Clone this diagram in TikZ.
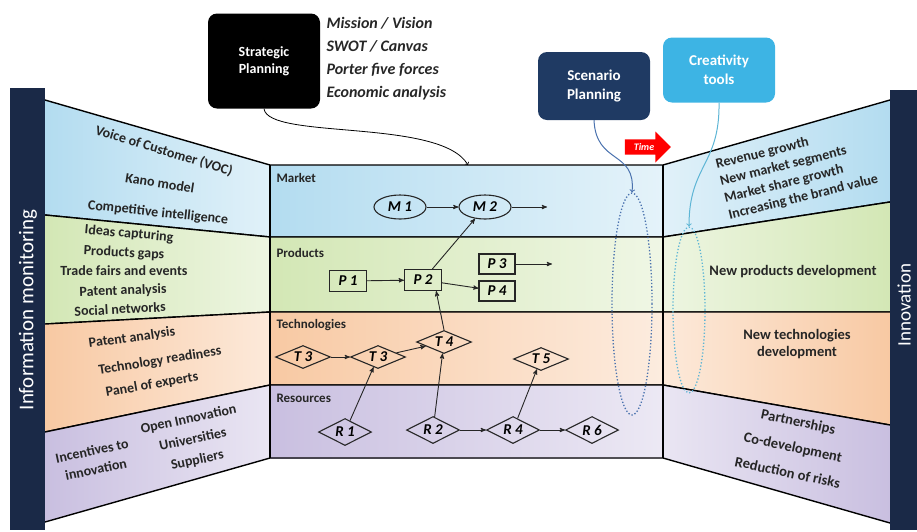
\documentclass[tikz,border=0pt]{standalone}
\usepackage{fontspec}
\setmainfont{Carlito}
\usetikzlibrary{shapes.geometric, shapes.arrows, positioning, arrows}

\definecolor{navybar}{HTML}{1A2947}
\definecolor{scenblue}{HTML}{1F3A63}
\definecolor{creablue}{HTML}{3DB4E4}
\definecolor{bandblue}{HTML}{B3DCF0}
\definecolor{bandgreen}{HTML}{D3E7B5}
\definecolor{bandorange}{HTML}{F8C9A3}
\definecolor{bandpurple}{HTML}{C9BFE0}
\definecolor{scenline}{HTML}{4A72AE}
\definecolor{crealine}{HTML}{5DB5D5}
\definecolor{inktext}{HTML}{262626}

\tikzset{
x=1pt, y=-1pt, % one unit is one pixel of the layout
>=stealth', % makes the arrow heads bold
panel/.style={draw=black, line width=1.4pt}, % borders of the three walls
sidetext/.style={font=\fontsize{14}{21}\selectfont\bfseries, text=inktext, inner sep=1pt, align=center},
righttext/.style={font=\fontsize{14.5}{17}\selectfont\bfseries, text=inktext, inner sep=1pt, align=center},
bartext/.style={rotate=90, text=white, font=\fontsize{21}{22}\selectfont},
rowlabel/.style={anchor=west, font=\fontsize{13}{15}\selectfont\bfseries, text=inktext},
toolbox/.style={rounded corners=9pt, minimum width=112pt, text=white, align=center, font=\fontsize{14}{17}\selectfont\bfseries},
item/.style={draw=inktext, line width=1.1pt, inner sep=0pt, font=\fontsize{15}{17}\selectfont\bfseries\itshape},
mnode/.style={item, ellipse, minimum width=52pt, minimum height=24pt},
pnode/.style={item, rectangle, minimum width=37pt, minimum height=21pt},
tnode/.style={item, diamond, aspect=2.4, minimum width=55pt, minimum height=23pt},
rnode/.style={item, diamond, aspect=2, minimum width=53pt, minimum height=27pt},
flow/.style={->, line width=0.9pt, draw=inktext},
hint/.style={-to, line width=1pt}, % open arrow heads of the tool links
}

\begin{document}
\begin{tikzpicture}
\useasboundingbox (0,0) rectangle (917,531);

% walls: left panel, centre box, right panel, one band at a time
\foreach \ya/\yb/\yc/\yd/\ye/\yf/\col in {100/215/165/237/100/202/bandblue,
  215/324/237/312/202/312/bandgreen, 324/432/312/385/312/425/bandorange,
  432/522/385/458/425/523/bandpurple}{
  \shade[left color=\col, right color=\col!40!white] (45,\ya) -- (270,\yc) -- (270,\yd) -- (45,\yb) -- cycle;
  \shade[left color=\col, right color=\col!35!white] (270,\yc) rectangle (663,\yd);
  \shade[left color=\col!40!white, right color=\col] (663,\yc) -- (890,\ye) -- (890,\yf) -- (663,\yd) -- cycle;
  \draw[panel] (45,\ya) -- (270,\yc) -- (663,\yc) -- (890,\ye);
  \draw[panel] (45,\yb) -- (270,\yd) -- (663,\yd) -- (890,\yf);
}
\draw[panel] (270,165) -- (270,458) (663,165) -- (663,458);

% side bars
\fill[navybar] (10,88) rectangle (45,530);
\fill[navybar] (890,90) rectangle (917,530);
\node[bartext] (imon) at (28,310) {Information monitoring};
\node[bartext, font=\fontsize{19}{20}\selectfont] (innov) at (904,305) {Innovation};

% left wall texts
\foreach \x/\y/\r/\t in {164/151/-17/Voice of Customer (VOC), 160/183/-9/Kano model,
  158/213/-6/Competitive intelligence, 129/234/-5/Ideas capturing, 124/253/-3/Products gaps,
  124/271/0/Trade fairs and events, 123/291/2/Patent analysis, 120/309/3/Social networks,
  132/338/8/Patent analysis, 160/361/9/Technology readiness, 152/385/10/Panel of experts}
  \node[sidetext, rotate=\r] at (\x,\y) {\t};
\node[sidetext, rotate=12] (partners) at (193,440) {Open Innovation\\Universities\\Suppliers};
\node[sidetext, rotate=12, font=\fontsize{14}{19}\selectfont\bfseries] (incent) at (94,460) {Incentives to\\innovation};

% right wall texts
\node[righttext, rotate=14, align=left, font=\fontsize{14}{17.5}\selectfont\bfseries] (gains) at (797,172) {Revenue growth\\New market segments\\Market share growth\\Increasing the brand value};
\node[righttext] (npd) at (793,272) {New products development};
\node[righttext] (ntd) at (797,344) {New technologies\\development};
\node[righttext, rotate=-12, font=\fontsize{14.5}{26}\selectfont\bfseries] (risks) at (793,447) {Partnerships\\Co-development\\Reduction of risks};

% row labels
\node[rowlabel] (lmarket) at (273,178) {Market};
\node[rowlabel] (lprod) at (273,253) {Products};
\node[rowlabel] (ltech) at (273,325) {Technologies};
\node[rowlabel] (lres) at (273,398) {Resources};

% roadmap items
\node[mnode] (m1) at (400,207) {M 1};
\node[mnode] (m2) at (485,207) {M 2};
\coordinate (mend) at (547,207);
\node[pnode] (p1) at (348,281) {P 1};
\node[pnode] (p2) at (423,280) {P 2};
\node[pnode, minimum width=36pt, minimum height=20pt] (p3) at (497,264) {P 3};
\node[pnode, minimum width=36pt, minimum height=20pt] (p4) at (497,291) {P 4};
\coordinate (pend) at (552,264);
\node[tnode] (t3a) at (303,357) {T 3};
\node[tnode] (t3b) at (378,357) {T 3};
\node[tnode] (t4) at (444,342) {T 4};
\node[tnode] (t5) at (541,359) {T 5};
\node[rnode] (r1) at (345,432) {R 1};
\node[rnode] (r2) at (433,430) {R 2};
\node[rnode] (r4) at (513,430) {R 4};
\node[rnode] (r6) at (592,430) {R 6};

\draw (m1) edge[flow] (m2)
  (m2) edge[flow] (mend)
  (p1) edge[flow] (p2)
  (p2) edge[flow] (p4)
  (p2) edge[flow] (m2)
  (p3) edge[flow] (pend)
  (t3a) edge[flow] (t3b)
  (t3b) edge[flow] (t4)
  (t4.north) edge[flow] (p2.-40)
  (r1) edge[flow] (t3b)
  (r2) edge[flow] (t4)
  (r2) edge[flow] (r4)
  (r4) edge[flow] (r6)
  (r4) edge[flow] (t5);

% tools above the walls
\node[toolbox, fill=black, minimum height=95pt] (strat) at (264,61) {Strategic\\Planning};
\node[anchor=north west, align=left, text=inktext, font=\fontsize{16}{23}\selectfont\bfseries\itshape] (stratlist) at (323,14)
  {Mission / Vision\\SWOT / Canvas\\Porter five forces\\Economic analysis};
\node[toolbox, fill=scenblue, minimum height=68pt, font=\fontsize{15}{19}\selectfont\bfseries] (scen) at (594,86) {Scenario\\Planning};
\node[toolbox, fill=creablue, minimum height=65pt, font=\fontsize{15}{19}\selectfont\bfseries] (crea) at (719,70) {Creativity\\tools};
\node[single arrow, fill=red, inner sep=3pt, minimum height=46pt, minimum width=31pt, single arrow head extend=7pt,
  text=white, font=\fontsize{10}{11}\selectfont\bfseries\itshape] (time) at (644,147) {Time};

% horizons of the tools
\node[ellipse, draw=scenline, dotted, line width=1.3pt, minimum width=40pt, minimum height=222pt] (scenhz) at (632,304) {};
\node[ellipse, draw=crealine, dotted, line width=1.3pt, minimum width=32pt, minimum height=166pt] (creahz) at (689,310) {};
\coordinate (mtop) at (468,165);

\draw[hint, line width=0.8pt] (strat.south) .. controls (268,140) and (440,118) .. (mtop);
\draw[hint, draw=scenline] (scen.south) .. controls (596,165) and (636,150) .. (scenhz.north);
\draw[hint, draw=crealine] (crea.south) .. controls (720,165) and (689,165) .. (creahz.north);
\end{tikzpicture}
\end{document}
